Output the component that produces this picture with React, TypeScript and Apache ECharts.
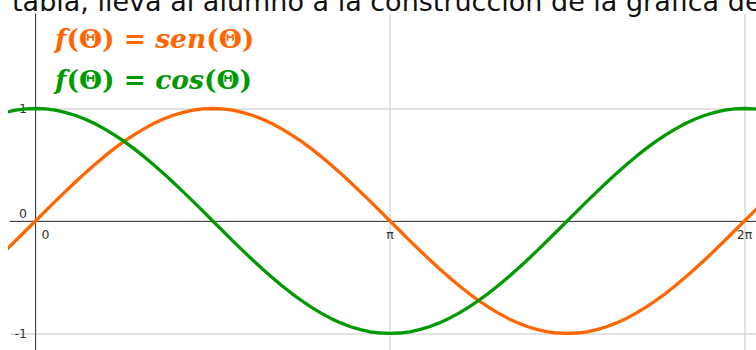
import React, { useEffect, useRef } from "react";
import * as echarts from "echarts";

const degrees = [
  -15, -10, -5, 0, 5, 10, 15, 20, 25, 30, 35, 40, 45, 50, 55, 60, 65, 70, 75, 80, 85, 90,
  95, 100, 105, 110, 115, 120, 125, 130, 135, 140, 145, 150, 155, 160, 165, 170, 175, 180,
  185, 190, 195, 200, 205, 210, 215, 220, 225, 230, 235, 240, 245, 250, 255, 260, 265, 270,
  275, 280, 285, 290, 295, 300, 305, 310, 315, 320, 325, 330, 335, 340, 345, 350, 355, 360,
  365, 370, 375,
];
const sinValues = [
  -0.259, -0.174, -0.087,
  0, 0.087, 0.174, 0.259, 0.342, 0.423, 0.5, 0.574, 0.643, 0.707, 0.766, 0.819, 0.866, 0.906, 0.94, 0.966, 0.985, 0.996, 1,
  0.996, 0.985, 0.966, 0.94, 0.906, 0.866, 0.819, 0.766, 0.707, 0.643, 0.574, 0.5, 0.423, 0.342, 0.259, 0.174, 0.087, 0,
  -0.087, -0.174, -0.259, -0.342, -0.423, -0.5, -0.574, -0.643, -0.707, -0.766, -0.819, -0.866, -0.906, -0.94, -0.966, -0.985, -0.996, -1,
  -0.996, -0.985, -0.966, -0.94, -0.906, -0.866, -0.819, -0.766, -0.707, -0.643, -0.574, -0.5, -0.423, -0.342, -0.259, -0.174, -0.087, 0,
  0.087, 0.174, 0.259,
];
const cosValues = [
  0.966, 0.985, 0.996,
  1, 0.996, 0.985, 0.966, 0.94, 0.906, 0.866, 0.819, 0.766, 0.707, 0.643, 0.574, 0.5, 0.423, 0.342, 0.259, 0.174, 0.087, 0,
  -0.087, -0.174, -0.259, -0.342, -0.423, -0.5, -0.574, -0.643, -0.707, -0.766, -0.819, -0.866, -0.906, -0.94, -0.966, -0.985, -0.996, -1,
  -0.996, -0.985, -0.966, -0.94, -0.906, -0.866, -0.819, -0.766, -0.707, -0.643, -0.574, -0.5, -0.423, -0.342, -0.259, -0.174, -0.087, 0,
  0.087, 0.174, 0.259, 0.342, 0.423, 0.5, 0.574, 0.643, 0.707, 0.766, 0.819, 0.866, 0.906, 0.94, 0.966, 0.985, 0.996, 1,
  0.996, 0.985, 0.966,
];
const xTicks = [0, 180, 360];
const xTickLabels = ["0", "π", "2π"];
const yTicks = [-1, 0, 1];
const headerText = "tabla, lleva al alumno a la construcción de la gráfica de";

const ORANGE = "#ff6600";
const GREEN = "#009900";

export default function App() {
  const ref = useRef<HTMLDivElement>(null);
  useEffect(() => {
    document.body.style.margin = "0";
    const chart = echarts.init(ref.current!, null, { renderer: "svg" });
    const mathRich = (color: string) => ({
      i: { fontFamily: "DejaVu Serif", fontStyle: "italic", fontWeight: "bold", fontSize: 26.5, fill: color },
      n: { fontFamily: "DejaVu Serif", fontWeight: "bold", fontSize: 26.5, fill: color },
    });
    chart.setOption({
      animation: false,
      grid: { left: 10, right: 0, top: 14, bottom: 0, containLabel: false, outerBoundsMode: "none" },
      xAxis: {
        type: "value",
        min: -12.95,
        max: 365.85,
        axisLine: { onZero: true, lineStyle: { color: "#444", width: 1 } },
        axisTick: { show: false, customValues: xTicks },
        splitLine: { show: true, lineStyle: { color: "#d8d8d8", width: 1.5 } },
        axisLabel: {
          customValues: xTicks,
          margin: -122,
          color: "#333",
          fontFamily: "DejaVu Sans",
          fontSize: 12.5,
          formatter: (v: number) => {
            const idx = xTicks.indexOf(v);
            const t = idx >= 0 ? xTickLabels[idx] : "";
            if (v === 0) return "{r|" + t + "}";
            return t;
          },
          rich: {
            r: { padding: [0, 0, 0, 20], fontSize: 12.5, color: "#333" },
          },
        },
      },
      yAxis: {
        type: "value",
        min: -1.147,
        max: 1.84,
        axisLine: { onZero: true, lineStyle: { color: "#444", width: 1 } },
        axisTick: { show: false, customValues: yTicks },
        splitLine: { show: true, lineStyle: { color: "#d8d8d8", width: 1.5 } },
        axisLabel: {
          customValues: yTicks,
          margin: -17,
          color: "#333",
          fontFamily: "DejaVu Sans",
          fontSize: 12.5,
          formatter: (v: number) => (v === 0 ? "{u|0}" : String(v)),
          rich: { u: { padding: [0, 0, 14, 0], fontSize: 12.5, color: "#333" } },
        },
      },
      series: [
        {
          type: "line",
          data: degrees.map((d, i) => [d, sinValues[i]]),
          smooth: false,
          symbol: "none",
          lineStyle: { color: ORANGE, width: 3.3, join: "round" },
          z: 3,
        },
        {
          type: "line",
          data: degrees.map((d, i) => [d, cosValues[i]]),
          smooth: false,
          symbol: "none",
          lineStyle: { color: GREEN, width: 3.3, join: "round" },
          z: 4,
        },
      ],
      graphic: [
        {
          type: "text",
          left: 12,
          top: -12,
          style: { text: headerText, fontFamily: "DejaVu Sans", fontSize: 27, fill: "#111" },
        },
        {
          type: "text",
          left: 55,
          top: 25,
          style: {
            text: "{i|f}{n|(Θ) = }{i|sen}{n|(Θ)}",
            rich: mathRich(ORANGE),
          },
        },
        {
          type: "text",
          left: 55,
          top: 66,
          style: {
            text: "{i|f}{n|(Θ) = }{i|cos}{n|(Θ)}",
            rich: mathRich(GREEN),
          },
        },
      ],
    });
    return () => chart.dispose();
  }, []);
  return <div ref={ref} style={{ width: 756, height: 350 }} />;
}
